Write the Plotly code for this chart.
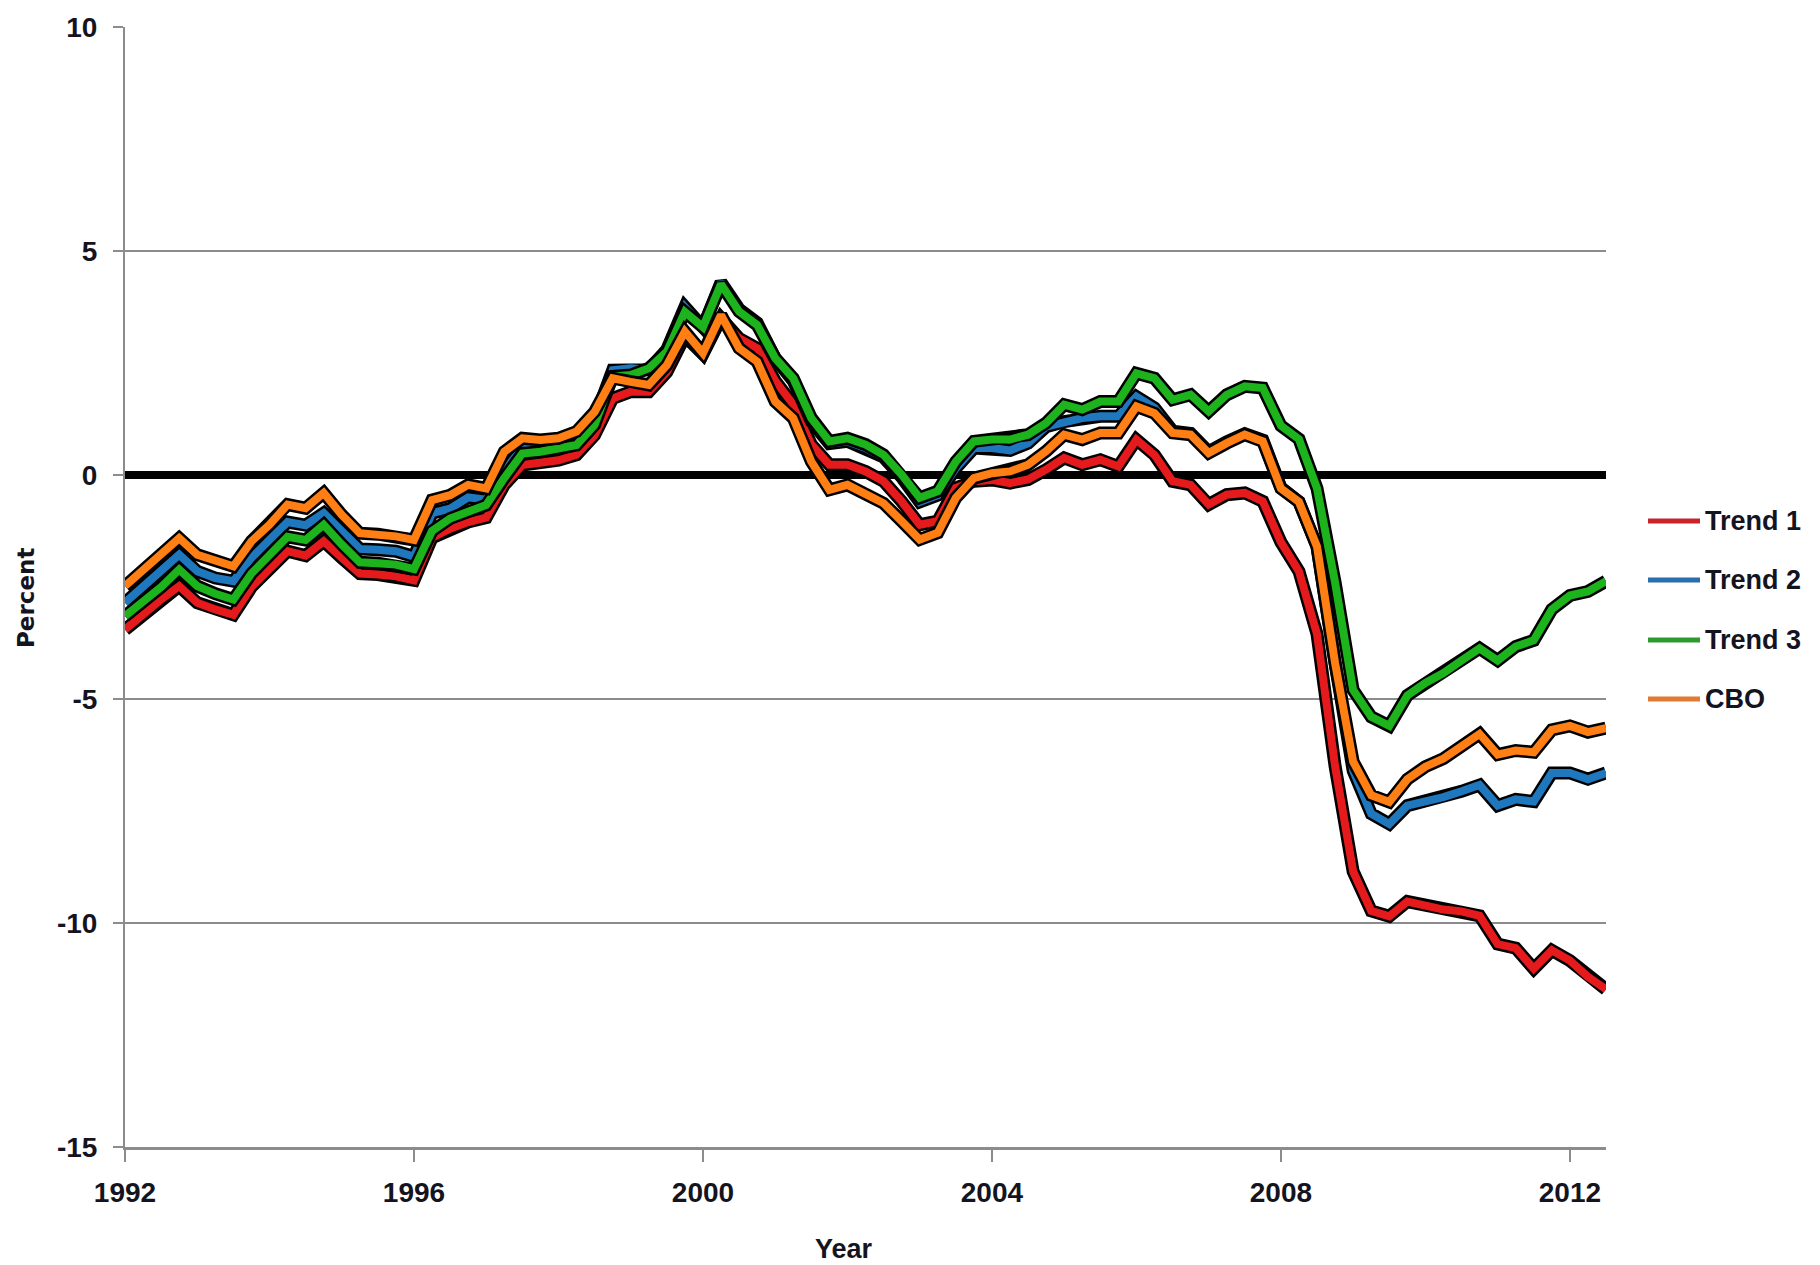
import plotly.graph_objects as go

# Quarterly observations, 1992Q1 .. 2012Q3
quarters = [1992 + q / 4 for q in range(83)]

trend1 = [-3.45, -3.10, -2.78, -2.48, -2.85, -3.00, -3.12, -2.50, -2.10, -1.70,
          -1.80, -1.48, -1.85, -2.20, -2.22, -2.26, -2.35, -1.40, -1.20, -1.05,
          -0.95, -0.22, 0.22, 0.26, 0.33, 0.45, 0.89, 1.71, 1.86, 1.86,
          2.30, 3.10, 2.70, 3.50, 3.05, 2.83, 2.10, 1.57, 0.68, 0.23,
          0.23, 0.08, -0.14, -0.59, -1.11, -1.03, -0.29, -0.14, -0.11, -0.18,
          -0.10, 0.12, 0.38, 0.23, 0.34, 0.19, 0.79, 0.45, -0.14, -0.22,
          -0.66, -0.44, -0.40, -0.59, -1.50, -2.15, -3.55, -6.50, -8.85, -9.73,
          -9.85, -9.52, -9.61, -9.70, -9.74, -9.84, -10.47, -10.56, -11.02, -10.61,
          -10.84, -11.20, -11.48]

trend2 = [-2.85, -2.50, -2.15, -1.78, -2.15, -2.30, -2.37, -1.85, -1.45, -1.05,
          -1.12, -0.85, -1.25, -1.65, -1.67, -1.70, -1.82, -0.85, -0.75, -0.50,
          -0.55, 0.10, 0.60, 0.62, 0.68, 0.78, 1.25, 2.34, 2.38, 2.35,
          2.80, 3.75, 3.30, 4.30, 3.70, 3.40, 2.60, 2.10, 1.20, 0.70,
          0.75, 0.60, 0.40, -0.05, -0.60, -0.45, 0.15, 0.60, 0.60, 0.55,
          0.71, 1.08, 1.19, 1.27, 1.31, 1.31, 1.75, 1.50, 0.98, 0.93,
          0.52, 0.74, 0.92, 0.78, -0.28, -0.60, -1.60, -4.20, -6.60, -7.56,
          -7.79, -7.38, -7.29, -7.19, -7.06, -6.92, -7.38, -7.24, -7.29, -6.65,
          -6.65, -6.79, -6.65]

trend3 = [-3.15, -2.85, -2.50, -2.11, -2.48, -2.65, -2.78, -2.20, -1.80, -1.38,
          -1.45, -1.11, -1.55, -1.95, -1.97, -2.00, -2.10, -1.25, -0.97, -0.82,
          -0.67, -0.07, 0.48, 0.52, 0.60, 0.67, 1.12, 2.20, 2.23, 2.38,
          2.75, 3.64, 3.30, 4.26, 3.65, 3.35, 2.61, 2.16, 1.27, 0.75,
          0.82, 0.68, 0.45, 0.01, -0.51, -0.36, 0.30, 0.75, 0.79, 0.79,
          0.90, 1.16, 1.57, 1.46, 1.64, 1.64, 2.27, 2.16, 1.68, 1.79,
          1.42, 1.79, 1.98, 1.94, 1.10, 0.80, -0.30, -2.40, -4.80, -5.40,
          -5.60, -4.92, -4.64, -4.42, -4.14, -3.87, -4.14, -3.83, -3.69, -3.00,
          -2.69, -2.60, -2.37]

cbo = [-2.48, -2.14, -1.79, -1.41, -1.78, -1.93, -2.04, -1.48, -1.11, -0.66,
       -0.74, -0.40, -0.89, -1.30, -1.32, -1.37, -1.45, -0.56, -0.45, -0.22,
       -0.30, 0.52, 0.82, 0.78, 0.82, 0.97, 1.41, 2.16, 2.08, 2.01,
       2.45, 3.20, 2.72, 3.57, 2.83, 2.53, 1.64, 1.27, 0.30, -0.33,
       -0.22, -0.44, -0.63, -1.03, -1.44, -1.29, -0.51, -0.07, 0.04, 0.08,
       0.23, 0.53, 0.90, 0.79, 0.94, 0.94, 1.53, 1.38, 0.94, 0.90,
       0.49, 0.71, 0.90, 0.75, -0.30, -0.60, -1.60, -4.20, -6.40, -7.15,
       -7.30, -6.79, -6.51, -6.33, -6.06, -5.78, -6.24, -6.15, -6.19, -5.69,
       -5.60, -5.74, -5.65]

series_names = ["Trend 1", "Trend 2", "Trend 3", "CBO"]
series_values = [trend1, trend2, trend3, cbo]
series_colors = ["#e41a1c", "#1f78be", "#1db31d", "#ff7f14"]
legend_colors = ["#c8242a", "#2a6eab", "#2e9a2e", "#e07a32"]

x_tick_vals = [1992, 1996, 2000, 2004, 2008, 2012]
x_tick_text = ["1992", "1996", "2000", "2004", "2008", "2012"]
y_tick_vals = [10, 5, 0, -5, -10, -15]
y_tick_text = ["10", "5", "0", "-5", "-10", "-15"]

FONT = "Liberation Sans, Arial, sans-serif"
TXT = "#141420"

fig = go.Figure()
for name, vals, col in zip(series_names, series_values, series_colors):
    fig.add_trace(go.Scatter(x=quarters, y=vals, mode="lines", showlegend=False,
                             line=dict(color="black", width=13), hoverinfo="skip"))
    fig.add_trace(go.Scatter(x=quarters, y=vals, mode="lines", name=name,
                             showlegend=False, line=dict(color=col, width=8)))

# page body has an 8px margin; figure coordinates = page coordinates - 8
OFF = 8
FW, FH = 1812, 1257
L, R, T, B = 117, 214, 19, 118
W = FW - L - R
H = FH - T - B


def px_x(xpage):
    return (xpage - OFF - L) / W


def px_y(ypage):
    return (FH - B - (ypage - OFF)) / H


legend_y_px = [521, 580, 640, 699]
for name, col, ypx in zip(series_names, legend_colors, legend_y_px):
    yp = px_y(ypx)
    fig.add_shape(type="line", xref="paper", yref="paper",
                  x0=px_x(1648), x1=px_x(1700), y0=yp, y1=yp,
                  line=dict(color=col, width=5))
    fig.add_annotation(xref="paper", yref="paper", x=px_x(1703), y=yp,
                       text=name, showarrow=False, xanchor="left", yanchor="middle",
                       font=dict(family=FONT, size=27, color=TXT, weight="bold"))

fig.add_annotation(xref="paper", yref="paper", x=px_x(844), y=px_y(1249),
                   text="Year", showarrow=False, xanchor="center", yanchor="middle",
                   font=dict(family=FONT, size=27, color=TXT, weight="bold"))
fig.add_annotation(xref="paper", yref="paper", x=px_x(26), y=px_y(598),
                   text="Percent", showarrow=False, textangle=-90,
                   xanchor="center", yanchor="middle",
                   font=dict(family="DejaVu Sans, sans-serif", size=23, color=TXT, weight="bold"))

fig.update_layout(
    width=FW, height=FH,
    margin=dict(l=L, r=R, t=T, b=B, autoexpand=False),
    paper_bgcolor="white", plot_bgcolor="white",
    xaxis=dict(range=[1992, 2012.5], tickvals=x_tick_vals, ticktext=x_tick_text,
               automargin=False,
               showgrid=False, zeroline=False, showline=True, linecolor="#8c8c8c",
               linewidth=3, ticks="outside", ticklen=12, tickcolor="#8c8c8c",
               tickwidth=2, ticklabelstandoff=6,
               tickfont=dict(family=FONT, size=28, color=TXT, weight="bold")),
    yaxis=dict(range=[-15, 10], tickvals=y_tick_vals, ticktext=y_tick_text,
               automargin=False,
               showgrid=True, gridcolor="#8c8c8c", gridwidth=2,
               zeroline=True, zerolinecolor="black", zerolinewidth=8,
               showline=True, linecolor="#8c8c8c", linewidth=2,
               ticks="outside", ticklen=10, tickcolor="#8c8c8c", tickwidth=2,
               ticklabelstandoff=10,
               tickfont=dict(family=FONT, size=28, color=TXT, weight="bold")),
)

fig.write_html("out.html")
